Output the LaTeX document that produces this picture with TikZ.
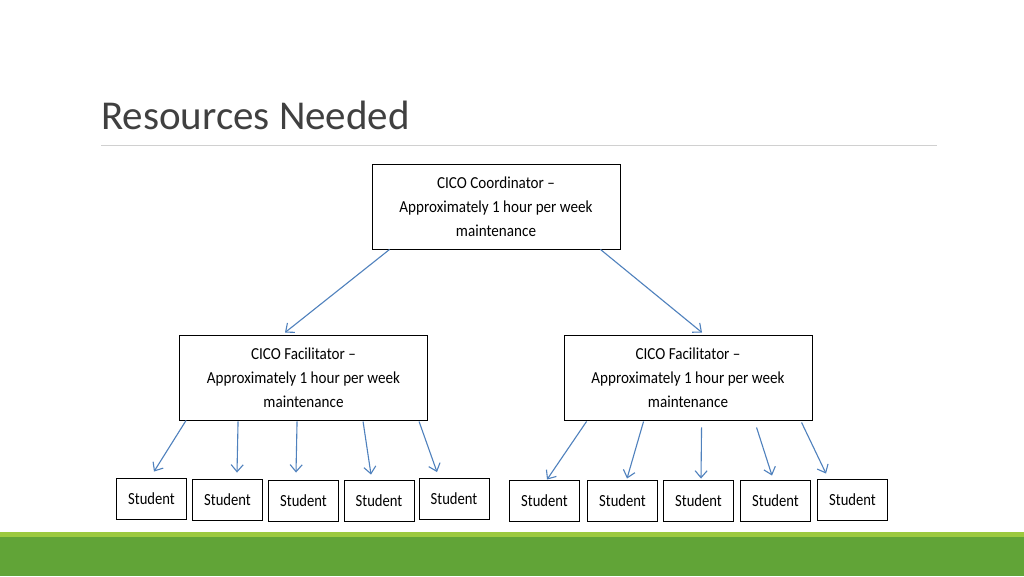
\documentclass[tikz,border=0pt]{standalone}
\usepackage{fontspec}
\usepackage{graphicx}
\setmainfont{Carlito}
\usetikzlibrary{arrows.meta,calc}
\definecolor{arrowblue}{HTML}{4F81BD}
\definecolor{titlegray}{HTML}{404040}
\definecolor{rulegray}{HTML}{D0D0D0}
\definecolor{lightgreen}{HTML}{9CC93F}
\definecolor{darkgreen}{HTML}{61A437}
\newcommand{\narrowtxt}[1]{\scalebox{0.9}[1.0]{#1}}
\newcommand{\studtxt}[1]{\scalebox{0.86}[1.0]{#1}}
\begin{document}
\begin{tikzpicture}[x=1pt,y=-1pt,
 box/.style={draw=black, line width=0.9pt, fill=white, inner sep=0pt, align=center,
   minimum width=248pt, minimum height=85pt, font=\fontsize{16.8}{24}\selectfont},
 stud/.style={draw=black, line width=0.9pt, fill=white, inner sep=0pt,
   minimum width=70pt, minimum height=41pt, font=\fontsize{17}{18}\selectfont},
 arr/.style={draw=arrowblue, line width=1.1pt, -{Straight Barb[length=7pt,width=12pt]}}]
\useasboundingbox (0,0) rectangle (1024,576);
\fill[white] (0,0) rectangle (1024,576);
% title
\node[anchor=base west, inner sep=0pt, text=titlegray, font=\fontsize{41}{48}\selectfont] (title) at (101,129) {Resources Needed};
\coordinate (ruleA) at (101,145);
\coordinate (ruleB) at (937,145);
\draw[rulegray, line width=1pt] (ruleA) -- (ruleB);
% boxes
\node[box] (coord) at (496,206.5) {\narrowtxt{CICO Coordinator –}\\\narrowtxt{Approximately 1 hour per week}\\\narrowtxt{maintenance}};
\node[box] (facL) at (303.5,377.5) {\narrowtxt{CICO Facilitator –}\\\narrowtxt{Approximately 1 hour per week}\\\narrowtxt{maintenance}};
\node[box] (facR) at (688,377.5) {\narrowtxt{CICO Facilitator –}\\\narrowtxt{Approximately 1 hour per week}\\\narrowtxt{maintenance}};
% students
\node[stud] (s1) at (151.5,498.5) {\studtxt{Student}};
\node[stud] (s2) at (227.5,500) {\studtxt{Student}};
\node[stud] (s3) at (303.5,500.5) {\studtxt{Student}};
\node[stud] (s4) at (379,500.5) {\studtxt{Student}};
\node[stud] (s5) at (454,499) {\studtxt{Student}};
\node[stud] (s6) at (544.5,500.5) {\studtxt{Student}};
\node[stud] (s7) at (622.5,500.5) {\studtxt{Student}};
\node[stud] (s8) at (698.5,500.5) {\studtxt{Student}};
\node[stud] (s9) at (775.5,501) {\studtxt{Student}};
\node[stud] (s10) at (852.5,499.5) {\studtxt{Student}};
% arrows from coordinator
\draw[arr] ($(coord.south west)+(18,0)$) -- ($(facL.north)+(-18.5,-2)$);
\draw[arr] ($(coord.south east)+(-20,0)$) -- ($(facR.north)+(14,-2)$);
% left facilitator
\draw[arr] ($(facL.south west)+(7,0)$) -- ($(s1.north)+(2.5,-6)$);
\draw[arr] ($(facL.south west)+(59,1)$) -- ($(s2.north)+(9.5,-6.5)$);
\draw[arr] ($(facL.south west)+(118,1)$) -- ($(s3.north)+(-7.5,-7)$);
\draw[arr] ($(facL.south west)+(184,1)$) -- ($(s4.north)+(-8,-5)$);
\draw[arr] ($(facL.south west)+(240,1)$) -- ($(s5.north)+(-17,-6)$);
% right facilitator
\draw[arr] ($(facR.south west)+(23,1)$) -- ($(s6.north)+(2.5,0)$);
\draw[arr] ($(facR.south west)+(80,1)$) -- ($(s7.north)+(4.5,-1)$);
\draw[arr] ($(facR.south west)+(138,7)$) -- ($(s8.north)+(2.5,-1)$);
\draw[arr] ($(facR.south west)+(193,7)$) -- ($(s9.north)+(-3.5,-4.5)$);
\draw[arr] ($(facR.south west)+(238,2)$) -- ($(s10.north)+(-26.5,-5)$);
% bottom bar
\fill[lightgreen] (0,532) rectangle (1024,537);
\fill[darkgreen] (0,537) rectangle (1024,576);
\end{tikzpicture}
\end{document}
